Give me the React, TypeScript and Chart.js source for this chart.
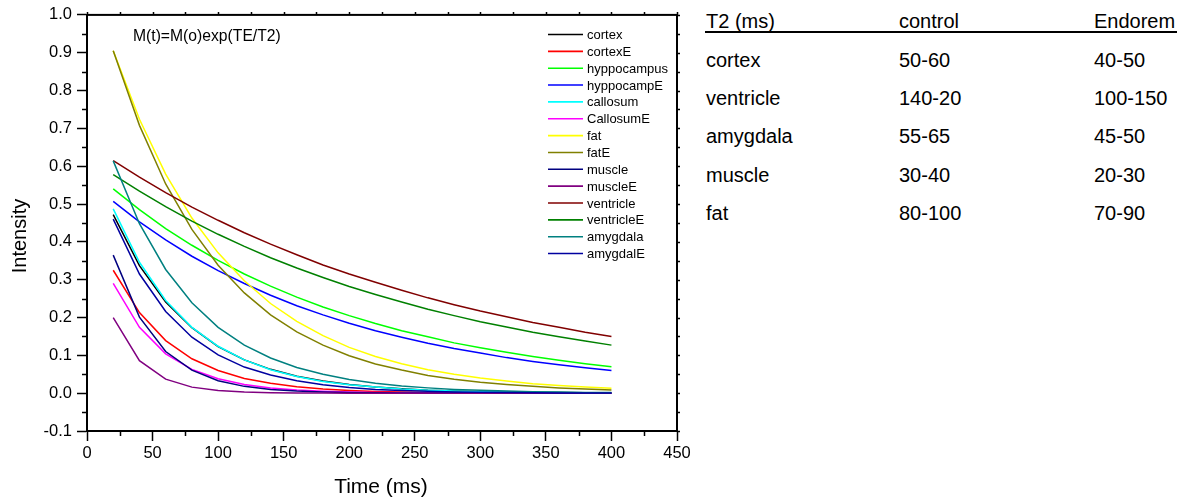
import React, { useEffect, useRef } from 'react';
import { Chart, registerables } from 'chart.js';

Chart.register(...registerables);

// ---------- data ----------
const echoTimes = [20, 40, 60, 80, 100, 120, 140, 160, 180, 200, 220, 240, 260, 280, 300, 320, 340, 360, 380, 400];

const cortex = [0.472, 0.337, 0.241, 0.173, 0.123, 0.088, 0.063, 0.045, 0.032, 0.023, 0.016, 0.012, 0.008, 0.006, 0.004, 0.003, 0.002, 0.002, 0.001, 0.001];
const cortexE = [0.325, 0.213, 0.139, 0.091, 0.06, 0.039, 0.026, 0.017, 0.011, 0.0072, 0.0047, 0.0031, 0.002, 0.0013, 0.0009, 0.0006, 0.0004, 0.0003, 0.0002, 0.0001];
const hyppocampus = [0.54, 0.485, 0.435, 0.391, 0.351, 0.315, 0.283, 0.254, 0.228, 0.205, 0.184, 0.165, 0.149, 0.133, 0.12, 0.108, 0.097, 0.087, 0.078, 0.07];
const hyppocampE = [0.507, 0.453, 0.405, 0.362, 0.324, 0.29, 0.259, 0.231, 0.207, 0.185, 0.165, 0.148, 0.132, 0.118, 0.106, 0.094, 0.084, 0.075, 0.067, 0.06];
const callosum = [0.487, 0.346, 0.245, 0.174, 0.124, 0.088, 0.062, 0.044, 0.031, 0.022, 0.016, 0.011, 0.008, 0.006, 0.004, 0.003, 0.002, 0.001, 0.001, 0.001];
const callosumE = [0.29, 0.174, 0.104, 0.063, 0.038, 0.023, 0.0135, 0.0081, 0.0049, 0.0029, 0.0018, 0.0011, 0.0006, 0.0004, 0.0002, 0.0001, 0.0001, 0.0001, 0, 0];
const fat = [0.905, 0.724, 0.579, 0.463, 0.371, 0.297, 0.237, 0.19, 0.152, 0.121, 0.097, 0.078, 0.062, 0.05, 0.04, 0.032, 0.025, 0.02, 0.016, 0.013];
const fatE = [0.905, 0.708, 0.553, 0.433, 0.338, 0.265, 0.207, 0.162, 0.127, 0.099, 0.077, 0.061, 0.047, 0.037, 0.029, 0.023, 0.018, 0.014, 0.011, 0.0085];
const muscle = [0.365, 0.201, 0.11, 0.061, 0.033, 0.018, 0.01, 0.0056, 0.0031, 0.0017, 0.0009, 0.0005, 0.0003, 0.0002, 0.0001, 0, 0, 0, 0, 0];
const muscleE = [0.2, 0.086, 0.037, 0.016, 0.0068, 0.0029, 0.0013, 0.0005, 0.0002, 0.0001, 0, 0, 0, 0, 0, 0, 0, 0, 0, 0];
const ventricle = [0.615, 0.571, 0.53, 0.492, 0.457, 0.424, 0.394, 0.366, 0.339, 0.315, 0.293, 0.272, 0.252, 0.234, 0.217, 0.202, 0.187, 0.174, 0.161, 0.15];
const ventricleE = [0.578, 0.534, 0.493, 0.455, 0.42, 0.388, 0.358, 0.331, 0.306, 0.282, 0.261, 0.241, 0.222, 0.205, 0.189, 0.175, 0.161, 0.149, 0.138, 0.127];
const amygdala = [0.614, 0.448, 0.327, 0.239, 0.174, 0.127, 0.093, 0.068, 0.05, 0.036, 0.026, 0.019, 0.014, 0.01, 0.0075, 0.0055, 0.004, 0.0029, 0.0021, 0.0016];
const amygdalE = [0.46, 0.315, 0.216, 0.148, 0.101, 0.069, 0.048, 0.033, 0.022, 0.015, 0.01, 0.0072, 0.0049, 0.0034, 0.0023, 0.0016, 0.0011, 0.0007, 0.0005, 0.0004];

const seriesNames = ['cortex', 'cortexE', 'hyppocampus', 'hyppocampE', 'callosum', 'CallosumE', 'fat', 'fatE', 'muscle', 'muscleE', 'ventricle', 'ventricleE', 'amygdala', 'amygdalE'];
const seriesValues = [cortex, cortexE, hyppocampus, hyppocampE, callosum, callosumE, fat, fatE, muscle, muscleE, ventricle, ventricleE, amygdala, amygdalE];
const seriesColors = ['#000000', '#FF0000', '#00FF00', '#0000FF', '#00FFFF', '#FF00FF', '#FFFF00', '#808000', '#000080', '#800080', '#800000', '#008000', '#008080', '#0000A0'];

const formulaText = 'M(t)=M(o)exp(TE/T2)';
const xTitle = 'Time (ms)';
const yTitle = 'Intensity';

const tableHeaders = ['T2 (ms)', 'control', 'Endorem'];
const tableRegions = ['cortex', 'ventricle', 'amygdala', 'muscle', 'fat'];
const controlT2 = ['50-60', '140-20', '55-65', '30-40', '80-100'];
const endoremT2 = ['40-50', '100-150', '45-50', '20-30', '70-90'];

const FONT = '"Liberation Sans", Arial, Helvetica, sans-serif';

const extrasPlugin = {
  id: 'extras',
  afterDraw(chart: any) {
    const { ctx, chartArea, scales } = chart;
    const { left, right, top, bottom } = chartArea;
    const xs = scales.x;
    const ys = scales.y;
    ctx.save();
    ctx.strokeStyle = '#000';
    ctx.lineWidth = 2;
    ctx.strokeRect(left, top, right - left, bottom - top);

    // minor / side ticks
    ctx.lineWidth = 1.5;
    ctx.beginPath();
    for (let k = -2; k <= 20; k++) {
      const py = Math.round(ys.getPixelForValue(k * 0.05)) + 0.5;
      if (k % 2 !== 0) {
        ctx.moveTo(left - 5, py);
        ctx.lineTo(left, py);
      }
      ctx.moveTo(right, py);
      ctx.lineTo(right + 3, py);
    }
    for (let k = 0; k <= 18; k++) {
      const px = Math.round(xs.getPixelForValue(k * 25)) + 0.5;
      if (k % 2 !== 0) {
        ctx.moveTo(px, bottom);
        ctx.lineTo(px, bottom + 5);
      }
      ctx.moveTo(px, top);
      ctx.lineTo(px, top - 3);
    }
    ctx.stroke();

    // legend
    const datasets = chart.data.datasets;
    ctx.font = `13px ${FONT}`;
    ctx.textBaseline = 'middle';
    ctx.textAlign = 'left';
    ctx.fillStyle = '#000';
    datasets.forEach((ds: any, i: number) => {
      const ly = 34.5 + i * 16.85;
      ctx.strokeStyle = ds.borderColor;
      ctx.lineWidth = 1.6;
      ctx.beginPath();
      ctx.moveTo(548, ly);
      ctx.lineTo(583, ly);
      ctx.stroke();
      ctx.fillText(ds.label, 587, ly + 1);
    });

    // formula annotation
    ctx.font = `15.7px ${FONT}`;
    ctx.fillText(formulaText, 133, 37);

    // axis titles
    ctx.font = `21px ${FONT}`;
    ctx.textAlign = 'center';
    ctx.textBaseline = 'alphabetic';
    ctx.fillText(xTitle, 381, 492.5);
    ctx.translate(26, 236);
    ctx.rotate(-Math.PI / 2);
    ctx.font = `20px ${FONT}`;
    ctx.fillText(yTitle, 0, 0);
    ctx.restore();
  },
};

function ChartCanvas() {
  const ref = useRef<HTMLCanvasElement | null>(null);
  useEffect(() => {
    if (!ref.current) return;
    const n = seriesNames.length;
    const chart = new Chart(ref.current, {
      type: 'line',
      data: {
        datasets: seriesNames.map((name, i) => ({
          label: name,
          data: echoTimes.map((t, j) => ({ x: t, y: seriesValues[i][j] })),
          borderColor: seriesColors[i],
          backgroundColor: seriesColors[i],
          borderWidth: 1.5,
          pointRadius: 0,
          tension: 0,
          fill: false,
          order: n - i,
        })),
      },
      options: {
        responsive: false,
        animation: false,
        devicePixelRatio: 1,
        layout: { padding: { top: 14, right: 23, left: 0, bottom: 0 } },
        plugins: { legend: { display: false }, tooltip: { enabled: false }, title: { display: false } },
        scales: {
          x: {
            type: 'linear',
            min: 0,
            max: 450,
            ticks: { stepSize: 50, color: '#000', font: { family: FONT, size: 16.5 }, padding: 3, maxRotation: 0 },
            grid: { display: true, drawOnChartArea: false, drawTicks: true, tickLength: 10, tickColor: '#000', tickWidth: 1.5 },
            border: { display: true, color: '#000', width: 2 },
            afterFit: (s: any) => { s.height = 70; },
          },
          y: {
            type: 'linear',
            min: -0.1,
            max: 1.0,
            ticks: {
              stepSize: 0.1,
              color: '#000',
              font: { family: FONT, size: 16.5 },
              padding: 5,
              callback: (v: any) => Number(v).toFixed(1),
            },
            grid: { display: true, drawOnChartArea: false, drawTicks: true, tickLength: 10, tickColor: '#000', tickWidth: 1.5 },
            border: { display: true, color: '#000', width: 2 },
            afterFit: (s: any) => { s.width = 87; },
          },
        },
      },
      plugins: [extrasPlugin],
    });
    return () => chart.destroy();
  }, []);
  return <canvas ref={ref} width={700} height={501} style={{ display: 'block' }} />;
}

export default function App() {
  const colX = [706, 899, 1094];
  const headerTop = 10.5;
  const rowTops = [49.8, 88.1, 126.4, 164.8, 203.1];
  const textStyle: React.CSSProperties = {
    position: 'absolute',
    fontFamily: FONT,
    fontSize: 20,
    lineHeight: '20px',
    color: '#000',
    whiteSpace: 'nowrap',
  };
  return (
    <div style={{ position: 'absolute', left: 0, top: 0, width: 1184, height: 501, background: '#fff', overflow: 'hidden' }}>
      <div style={{ position: 'absolute', left: 0, top: 0, width: 700, height: 501 }}>
        <ChartCanvas />
      </div>
      {tableHeaders.map((h, i) => (
        <div key={'h' + i} style={{ ...textStyle, left: colX[i], top: headerTop }}>{h}</div>
      ))}
      <div style={{ position: 'absolute', left: 705, top: 31, width: 472, height: 1.5, background: '#000' }} />
      {tableRegions.map((r, i) => (
        <React.Fragment key={'r' + i}>
          <div style={{ ...textStyle, left: colX[0], top: rowTops[i] }}>{r}</div>
          <div style={{ ...textStyle, left: colX[1], top: rowTops[i] }}>{controlT2[i]}</div>
          <div style={{ ...textStyle, left: colX[2], top: rowTops[i] }}>{endoremT2[i]}</div>
        </React.Fragment>
      ))}
    </div>
  );
}
